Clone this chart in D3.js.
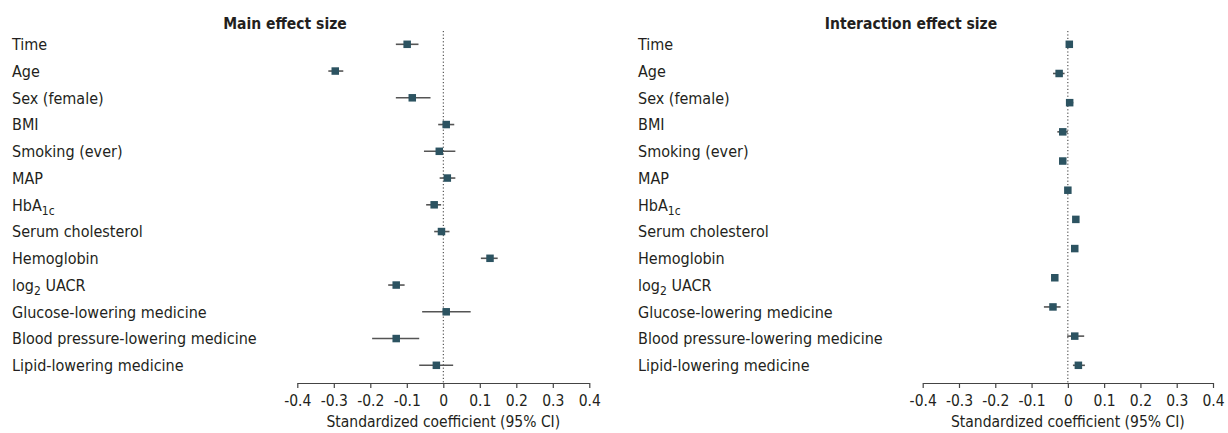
<!DOCTYPE html>
<html>
<head>
<meta charset="utf-8">
<script src="https://cdn.jsdelivr.net/npm/d3@7"></script>
<style>
  body { margin: 0; background: #fff; }
  text { font-family: "Liberation Sans Narrow", "DejaVu Sans Condensed", "Roboto", sans-serif; fill: #231f20; }
</style>
</head>
<body>
<svg id="chart" width="1228" height="433"></svg>
<script>
// row labels ({...} marks a subscript)
const labels = [
  'Time', 'Age', 'Sex (female)', 'BMI', 'Smoking (ever)', 'MAP', 'HbA{1c}',
  'Serum cholesterol', 'Hemoglobin', 'log{2} UACR', 'Glucose-lowering medicine',
  'Blood pressure-lowering medicine', 'Lipid-lowering medicine'
];

// main effect size: estimate and 95% CI
const mainEst = [-0.099, -0.296, -0.085, 0.008, -0.011, 0.011, -0.025, -0.005, 0.128, -0.129, 0.008, -0.129, -0.019];
const mainLo  = [-0.130, -0.315, -0.130, -0.014, -0.053, -0.010, -0.047, -0.025, 0.103, -0.151, -0.058, -0.195, -0.066];
const mainHi  = [-0.068, -0.274, -0.035, 0.030, 0.033, 0.033, -0.006, 0.017, 0.149, -0.106, 0.075, -0.066, 0.027];

// interaction effect size (12 rows drawn over the same height)
const interEst = [0.004, -0.024, 0.005, -0.014, -0.014, 0.000, 0.022, 0.019, -0.036, -0.041, 0.019, 0.029];
const interLo  = [0.000, -0.041, 0.000, -0.029, -0.020, -0.004, 0.017, 0.014, -0.040, -0.066, -0.002, 0.014];
const interHi  = [0.014, -0.009, 0.015, 0.000, -0.008, 0.004, 0.027, 0.024, -0.032, -0.020, 0.045, 0.047];

const tickValues = [-0.4, -0.3, -0.2, -0.1, 0, 0.1, 0.2, 0.3, 0.4];

const markColor = '#2c5361';
const svg = d3.select('#chart');

function panel(opts) {
  const g = svg.append('g');

  const x = d3.scaleLinear()
      .domain([-0.4, 0.4])
      .range(opts.xRange);

  const yRows = d3.scalePoint()
      .domain(d3.range(labels.length))
      .range([44.3, 365.3]);

  const y = d3.scalePoint()
      .domain(d3.range(opts.est.length))
      .range([44.3, 365.3]);

  const axisY = 383;

  // title
  g.append('text')
      .attr('x', opts.titleX)
      .attr('y', 29)
      .attr('text-anchor', 'middle')
      .attr('font-size', 15.5)
      .attr('font-weight', 'bold')
      .text(opts.title);

  // row labels
  const lab = g.selectAll('.row-label')
    .data(labels)
    .join('text')
      .attr('class', 'row-label')
      .attr('x', opts.labelX)
      .attr('y', (d, i) => yRows(i) + 5.7)
      .attr('font-size', 16);

  lab.each(function(d) {
    const t = d3.select(this);
    let shifted = false;
    d.split(/(\{[^}]*\})/).filter(s => s.length).forEach(part => {
      if (part[0] === '{') {
        t.append('tspan')
            .attr('font-size', 12)
            .attr('dy', 4)
            .text(part.slice(1, -1));
        shifted = true;
      } else {
        t.append('tspan')
            .attr('dy', shifted ? -4 : null)
            .text(part);
        shifted = false;
      }
    });
  });

  // zero reference line
  g.append('line')
      .attr('x1', x(0))
      .attr('x2', x(0))
      .attr('y1', 31)
      .attr('y2', axisY)
      .attr('stroke', '#333')
      .attr('stroke-width', 1)
      .attr('stroke-dasharray', '1.2,2.2');

  // axis
  const xAxis = d3.axisBottom(x)
      .tickValues(tickValues)
      .tickSize(5)
      .tickSizeOuter(0)
      .tickFormat(d => d === 0 ? '0' : d3.format('.1f')(d).replace('\u2212', '-'));

  g.append('g')
      .attr('transform', `translate(0, ${axisY})`)
      .call(xAxis)
      .call(a => a.select('.domain').attr('stroke', '#444').attr('stroke-width', 1.2))
      .call(a => a.selectAll('.tick line').attr('stroke', '#444').attr('stroke-width', 1.2))
      .call(a => a.selectAll('.tick text')
          .attr('font-size', 15.5)
          .attr('font-family', null)
          .attr('fill', '#231f20')
          .attr('dy', null)
          .attr('y', 23));

  g.append('text')
      .attr('x', (opts.xRange[0] + opts.xRange[1]) / 2)
      .attr('y', 427)
      .attr('text-anchor', 'middle')
      .attr('font-size', 15.5)
      .text('Standardized coefficient (95% CI)');

  // confidence intervals
  g.selectAll('.ci')
    .data(opts.est)
    .join('line')
      .attr('class', 'ci')
      .attr('x1', (d, i) => x(opts.lo[i]))
      .attr('x2', (d, i) => x(opts.hi[i]))
      .attr('y1', (d, i) => y(i))
      .attr('y2', (d, i) => y(i))
      .attr('stroke', '#555')
      .attr('stroke-width', 1.6);

  // point estimates
  const s = 7.5;
  g.selectAll('.est')
    .data(opts.est)
    .join('rect')
      .attr('class', 'est')
      .attr('x', d => x(d) - s / 2)
      .attr('y', (d, i) => y(i) - s / 2)
      .attr('width', s)
      .attr('height', s)
      .attr('fill', markColor);
}

panel({
  title: 'Main effect size',
  titleX: 285,
  labelX: 12,
  xRange: [297.3, 589.3],
  est: mainEst, lo: mainLo, hi: mainHi
});

panel({
  title: 'Interaction effect size',
  titleX: 911,
  labelX: 638,
  xRange: [922.7, 1213],
  est: interEst, lo: interLo, hi: interHi
});
</script>
</body>
</html>
